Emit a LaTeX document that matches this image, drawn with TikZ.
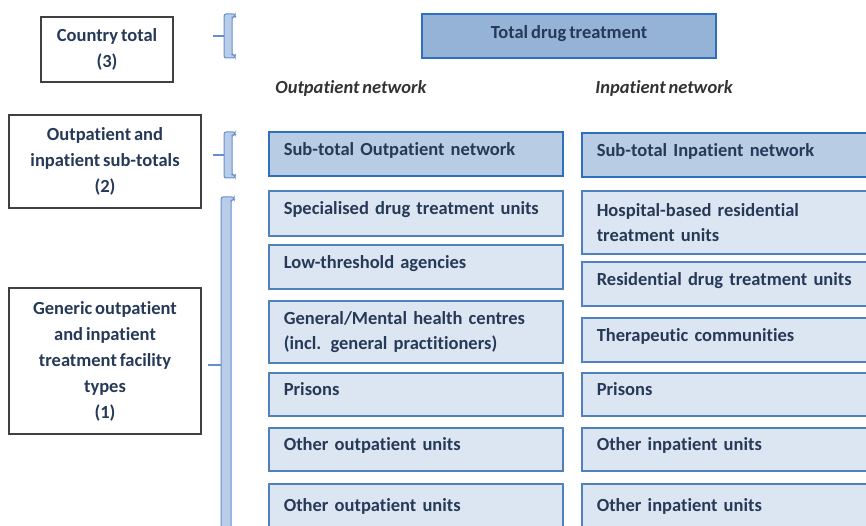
\documentclass[tikz,border=0pt]{standalone}
\usepackage{fontspec}
\setmainfont{Carlito}[Ligatures=NoCommon, WordSpace=0.7]
\usetikzlibrary{positioning}
\definecolor{txt}{HTML}{263A58}
\definecolor{unitfill}{HTML}{DCE6F2}
\definecolor{unitline}{HTML}{4F81BD}
\definecolor{subfill}{HTML}{B8CCE4}
\definecolor{subline}{HTML}{2E6FC0}
\definecolor{totfill}{HTML}{95B3D7}
\definecolor{brfill}{HTML}{B9CDEA}
\definecolor{brline}{HTML}{6690CC}

\begin{document}
\begin{tikzpicture}[x=1pt, y=-1pt,
  every node/.style={font=\fontsize{18.5}{26}\selectfont\bfseries, text=txt},
  legend/.style={draw=black!75, line width=1.2pt, fill=white, align=center, inner sep=0pt},
  unit/.style={draw=unitline, fill=unitfill, line width=1.6pt, anchor=north west,
    text width=264pt, inner xsep=15pt, inner ysep=0pt, align=left,
    font=\fontsize{18.5}{25}\selectfont\bfseries},
  oneline/.style={text height=13pt, text depth=10pt},
  subtot/.style={unit, oneline, draw=subline, fill=subfill},
  heading/.style={font=\fontsize{18.5}{22}\selectfont\bfseries\itshape, text=black!80},
  brace/.style={draw=brline, fill=brfill, line width=1pt, rounded corners=2pt},
  tick/.style={draw=brline, line width=1.2pt}
]
\useasboundingbox (0,0) rectangle (866,526);
\clip (0,0) rectangle (866,526);

% level legends on the left
\node[legend, minimum width=132pt, minimum height=65pt] (country) at (107,49.5) {Country total\\(3)};
\node[legend, minimum width=192pt, minimum height=93pt] (subtotals) at (105,161.5) {Outpatient and\\inpatient sub-totals\\(2)};
\node[legend, minimum width=192pt, minimum height=146pt] (generic) at (105,361) {Generic outpatient\\and inpatient\\treatment facility\\types\\(1)};

% brackets
\path[brace] (235,14) -- (224,14) -- (224,58) -- (235,58) -- (235,55) -- (232,55) -- (232,17) -- (235,17) -- cycle;
\coordinate (b3) at (224,36);
\draw[tick] (b3) -- ++(-11,0);
\path[brace] (235,132) -- (224,132) -- (224,178) -- (235,178) -- (235,175) -- (232,175) -- (232,135) -- (235,135) -- cycle;
\coordinate (b2) at (224,155);
\draw[tick] (b2) -- ++(-11,0);
\path[brace] (234,197) -- (221,197) -- (221,540) -- (231,540) -- (231,200) -- (234,200) -- cycle;
\coordinate (b1) at (221,365);
\draw[tick] (b1) -- ++(-13,0);

% total
\node[draw=subline, fill=totfill, line width=2pt, minimum width=294pt, minimum height=44pt, text height=13pt, text depth=8pt] (total) at (569,36) {Total drug treatment};

% column headings
\node[heading] (outnet) at (351,88) {Outpatient network};
\node[heading] (innet) at (664,88) {Inpatient network};

% outpatient network
\node[subtot, minimum height=44pt] (outsub) at (268,131) {Sub-total Outpatient network};
\node[unit, oneline, minimum height=45pt] (out1) at (268,190) {Specialised drug treatment units};
\node[unit, oneline, minimum height=44pt] (out2) at (268,244) {Low-threshold agencies};
\node[unit, minimum height=62pt] (out3) at (268,300) {General/Mental health centres\\(incl. general practitioners)};
\node[unit, oneline, minimum height=43pt] (out4) at (268,372) {Prisons};
\node[unit, oneline, minimum height=43pt] (out5) at (268,427) {Other outpatient units};
\node[unit, minimum height=60pt] (out6) at (268,483) {\raisebox{17pt}{Other outpatient units}};

% inpatient network
\node[subtot, minimum height=44pt] (insub) at (581,132) {Sub-total Inpatient network};
\node[unit, minimum height=63pt] (in1) at (581,190) {Hospital-based residential\\treatment units};
\node[unit, oneline, minimum height=44pt] (in2) at (581,261) {Residential drug treatment units};
\node[unit, oneline, minimum height=44pt] (in3) at (581,317) {Therapeutic communities};
\node[unit, oneline, minimum height=43pt] (in4) at (581,372) {Prisons};
\node[unit, oneline, minimum height=43pt] (in5) at (581,427) {Other inpatient units};
\node[unit, minimum height=60pt] (in6) at (581,483) {\raisebox{17pt}{Other inpatient units}};
\end{tikzpicture}
\end{document}
